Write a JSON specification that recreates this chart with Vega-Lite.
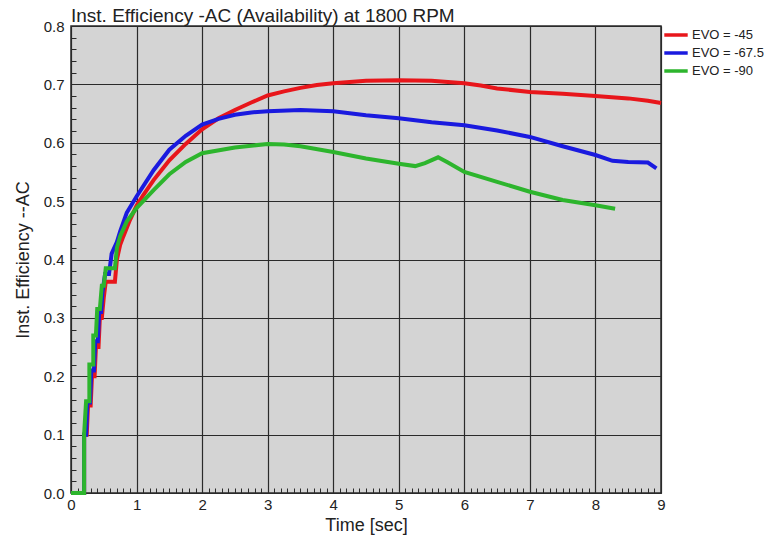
{
  "$schema": "https://vega.github.io/schema/vega-lite/v6.json",
  "autosize": "none",
  "width": 590,
  "height": 467,
  "padding": {"left": 71, "top": 26, "right": 106, "bottom": 47},
  "background": "white",
  "title": {
    "text": "Inst. Efficiency -AC (Availability) at 1800 RPM",
    "anchor": "start",
    "frame": "group",
    "font": "Liberation Sans",
    "fontSize": 19,
    "fontWeight": "normal",
    "color": "#222",
    "baseline": "alphabetic",
    "offset": 0,
    "dy": 22
  },
  "config": {
    "view": {"fill": "#d4d4d4", "stroke": "#2a2a2a", "strokeWidth": 1.5},
    "axis": {"labelFont": "Liberation Sans", "titleFont": "Liberation Sans", "labelColor": "#222", "titleColor": "#222", "titleFontWeight": "normal"},
    "legend": {"labelFont": "Liberation Sans"}
  },
  "data": {
    "values": [
      {"t": 0, "v": 0, "s": "EVO = -45"},
      {"t": 0.2, "v": 0, "s": "EVO = -45"},
      {"t": 0.2, "v": 0.1, "s": "EVO = -45"},
      {"t": 0.24, "v": 0.1, "s": "EVO = -45"},
      {"t": 0.26, "v": 0.15, "s": "EVO = -45"},
      {"t": 0.3, "v": 0.15, "s": "EVO = -45"},
      {"t": 0.32, "v": 0.2, "s": "EVO = -45"},
      {"t": 0.36, "v": 0.2, "s": "EVO = -45"},
      {"t": 0.38, "v": 0.25, "s": "EVO = -45"},
      {"t": 0.42, "v": 0.25, "s": "EVO = -45"},
      {"t": 0.44, "v": 0.3, "s": "EVO = -45"},
      {"t": 0.47, "v": 0.3, "s": "EVO = -45"},
      {"t": 0.5, "v": 0.335, "s": "EVO = -45"},
      {"t": 0.53, "v": 0.362, "s": "EVO = -45"},
      {"t": 0.67, "v": 0.362, "s": "EVO = -45"},
      {"t": 0.7, "v": 0.4, "s": "EVO = -45"},
      {"t": 0.75, "v": 0.425, "s": "EVO = -45"},
      {"t": 0.8, "v": 0.44, "s": "EVO = -45"},
      {"t": 0.9, "v": 0.468, "s": "EVO = -45"},
      {"t": 1.0, "v": 0.492, "s": "EVO = -45"},
      {"t": 1.1, "v": 0.51, "s": "EVO = -45"},
      {"t": 1.26, "v": 0.536, "s": "EVO = -45"},
      {"t": 1.5, "v": 0.57, "s": "EVO = -45"},
      {"t": 1.75, "v": 0.598, "s": "EVO = -45"},
      {"t": 2.0, "v": 0.623, "s": "EVO = -45"},
      {"t": 2.25, "v": 0.642, "s": "EVO = -45"},
      {"t": 2.5, "v": 0.656, "s": "EVO = -45"},
      {"t": 2.75, "v": 0.669, "s": "EVO = -45"},
      {"t": 3.0, "v": 0.681, "s": "EVO = -45"},
      {"t": 3.25, "v": 0.688, "s": "EVO = -45"},
      {"t": 3.5, "v": 0.694, "s": "EVO = -45"},
      {"t": 3.75, "v": 0.699, "s": "EVO = -45"},
      {"t": 4.0, "v": 0.702, "s": "EVO = -45"},
      {"t": 4.5, "v": 0.706, "s": "EVO = -45"},
      {"t": 5.0, "v": 0.707, "s": "EVO = -45"},
      {"t": 5.5, "v": 0.706, "s": "EVO = -45"},
      {"t": 6.0, "v": 0.702, "s": "EVO = -45"},
      {"t": 6.25, "v": 0.698, "s": "EVO = -45"},
      {"t": 6.5, "v": 0.693, "s": "EVO = -45"},
      {"t": 7.0, "v": 0.687, "s": "EVO = -45"},
      {"t": 7.5, "v": 0.684, "s": "EVO = -45"},
      {"t": 8.0, "v": 0.68, "s": "EVO = -45"},
      {"t": 8.5, "v": 0.676, "s": "EVO = -45"},
      {"t": 8.8, "v": 0.672, "s": "EVO = -45"},
      {"t": 9.0, "v": 0.668, "s": "EVO = -45"},

      {"t": 0, "v": 0, "s": "EVO = -67.5"},
      {"t": 0.2, "v": 0, "s": "EVO = -67.5"},
      {"t": 0.2, "v": 0.1, "s": "EVO = -67.5"},
      {"t": 0.23, "v": 0.1, "s": "EVO = -67.5"},
      {"t": 0.25, "v": 0.155, "s": "EVO = -67.5"},
      {"t": 0.29, "v": 0.155, "s": "EVO = -67.5"},
      {"t": 0.31, "v": 0.21, "s": "EVO = -67.5"},
      {"t": 0.35, "v": 0.21, "s": "EVO = -67.5"},
      {"t": 0.37, "v": 0.26, "s": "EVO = -67.5"},
      {"t": 0.41, "v": 0.26, "s": "EVO = -67.5"},
      {"t": 0.43, "v": 0.31, "s": "EVO = -67.5"},
      {"t": 0.46, "v": 0.31, "s": "EVO = -67.5"},
      {"t": 0.48, "v": 0.345, "s": "EVO = -67.5"},
      {"t": 0.52, "v": 0.375, "s": "EVO = -67.5"},
      {"t": 0.58, "v": 0.375, "s": "EVO = -67.5"},
      {"t": 0.62, "v": 0.41, "s": "EVO = -67.5"},
      {"t": 0.7, "v": 0.43, "s": "EVO = -67.5"},
      {"t": 0.75, "v": 0.448, "s": "EVO = -67.5"},
      {"t": 0.85, "v": 0.48, "s": "EVO = -67.5"},
      {"t": 1.0, "v": 0.508, "s": "EVO = -67.5"},
      {"t": 1.26, "v": 0.553, "s": "EVO = -67.5"},
      {"t": 1.5, "v": 0.588, "s": "EVO = -67.5"},
      {"t": 1.75, "v": 0.612, "s": "EVO = -67.5"},
      {"t": 2.0, "v": 0.631, "s": "EVO = -67.5"},
      {"t": 2.25, "v": 0.641, "s": "EVO = -67.5"},
      {"t": 2.5, "v": 0.648, "s": "EVO = -67.5"},
      {"t": 2.75, "v": 0.652, "s": "EVO = -67.5"},
      {"t": 3.0, "v": 0.654, "s": "EVO = -67.5"},
      {"t": 3.5, "v": 0.656, "s": "EVO = -67.5"},
      {"t": 4.0, "v": 0.654, "s": "EVO = -67.5"},
      {"t": 4.5, "v": 0.647, "s": "EVO = -67.5"},
      {"t": 5.0, "v": 0.642, "s": "EVO = -67.5"},
      {"t": 5.5, "v": 0.635, "s": "EVO = -67.5"},
      {"t": 6.0, "v": 0.63, "s": "EVO = -67.5"},
      {"t": 6.5, "v": 0.621, "s": "EVO = -67.5"},
      {"t": 7.0, "v": 0.61, "s": "EVO = -67.5"},
      {"t": 7.5, "v": 0.594, "s": "EVO = -67.5"},
      {"t": 8.0, "v": 0.579, "s": "EVO = -67.5"},
      {"t": 8.26, "v": 0.569, "s": "EVO = -67.5"},
      {"t": 8.5, "v": 0.567, "s": "EVO = -67.5"},
      {"t": 8.8, "v": 0.566, "s": "EVO = -67.5"},
      {"t": 8.93, "v": 0.556, "s": "EVO = -67.5"},

      {"t": 0, "v": 0, "s": "EVO = -90"},
      {"t": 0.2, "v": 0, "s": "EVO = -90"},
      {"t": 0.2, "v": 0.1, "s": "EVO = -90"},
      {"t": 0.23, "v": 0.157, "s": "EVO = -90"},
      {"t": 0.28, "v": 0.157, "s": "EVO = -90"},
      {"t": 0.28, "v": 0.22, "s": "EVO = -90"},
      {"t": 0.34, "v": 0.22, "s": "EVO = -90"},
      {"t": 0.34, "v": 0.27, "s": "EVO = -90"},
      {"t": 0.38, "v": 0.27, "s": "EVO = -90"},
      {"t": 0.4, "v": 0.315, "s": "EVO = -90"},
      {"t": 0.44, "v": 0.315, "s": "EVO = -90"},
      {"t": 0.47, "v": 0.355, "s": "EVO = -90"},
      {"t": 0.5, "v": 0.355, "s": "EVO = -90"},
      {"t": 0.53, "v": 0.385, "s": "EVO = -90"},
      {"t": 0.67, "v": 0.385, "s": "EVO = -90"},
      {"t": 0.7, "v": 0.42, "s": "EVO = -90"},
      {"t": 0.75, "v": 0.44, "s": "EVO = -90"},
      {"t": 0.85, "v": 0.465, "s": "EVO = -90"},
      {"t": 1.0, "v": 0.488, "s": "EVO = -90"},
      {"t": 1.26, "v": 0.519, "s": "EVO = -90"},
      {"t": 1.5, "v": 0.546, "s": "EVO = -90"},
      {"t": 1.75, "v": 0.567, "s": "EVO = -90"},
      {"t": 2.0, "v": 0.582, "s": "EVO = -90"},
      {"t": 2.5, "v": 0.592, "s": "EVO = -90"},
      {"t": 3.0, "v": 0.598, "s": "EVO = -90"},
      {"t": 3.25, "v": 0.597, "s": "EVO = -90"},
      {"t": 3.5, "v": 0.594, "s": "EVO = -90"},
      {"t": 4.0, "v": 0.584, "s": "EVO = -90"},
      {"t": 4.5, "v": 0.573, "s": "EVO = -90"},
      {"t": 5.0, "v": 0.564, "s": "EVO = -90"},
      {"t": 5.25, "v": 0.56, "s": "EVO = -90"},
      {"t": 5.4, "v": 0.565, "s": "EVO = -90"},
      {"t": 5.6, "v": 0.575, "s": "EVO = -90"},
      {"t": 5.75, "v": 0.566, "s": "EVO = -90"},
      {"t": 6.0, "v": 0.55, "s": "EVO = -90"},
      {"t": 6.5, "v": 0.533, "s": "EVO = -90"},
      {"t": 7.0, "v": 0.516, "s": "EVO = -90"},
      {"t": 7.5, "v": 0.502, "s": "EVO = -90"},
      {"t": 8.0, "v": 0.493, "s": "EVO = -90"},
      {"t": 8.3, "v": 0.487, "s": "EVO = -90"}
    ]
  },
  "mark": {"type": "line", "strokeWidth": 4, "interpolate": "linear"},
  "encoding": {
    "x": {
      "field": "t",
      "type": "quantitative",
      "scale": {"domain": [0, 9], "nice": false},
      "axis": {
        "title": "Time [sec]",
        "titleFontSize": 18,
        "titlePadding": 4,
        "labelFontSize": 15,
        "labelPadding": 4,
        "labelOverlap": false,
        "labelFlush": false,
        "labelBound": false,
        "domain": false,
        "offset": -5,
        "grid": true,
        "gridColor": "#2a2a2a",
        "gridWidth": 1.2,
        "gridOpacity": {"condition": {"test": "abs(datum.value - round(datum.value)) < 0.001", "value": 1}, "value": 0},
        "ticks": true,
        "tickSize": 5,
        "tickColor": "#2a2a2a",
        "tickWidth": 1,
        "values": [0,0.1,0.2,0.3,0.4,0.5,0.6,0.7,0.8,0.9,1,1.1,1.2,1.3,1.4,1.5,1.6,1.7,1.8,1.9,2,2.1,2.2,2.3,2.4,2.5,2.6,2.7,2.8,2.9,3,3.1,3.2,3.3,3.4,3.5,3.6,3.7,3.8,3.9,4,4.1,4.2,4.3,4.4,4.5,4.6,4.7,4.8,4.9,5,5.1,5.2,5.3,5.4,5.5,5.6,5.7,5.8,5.9,6,6.1,6.2,6.3,6.4,6.5,6.6,6.7,6.8,6.9,7,7.1,7.2,7.3,7.4,7.5,7.6,7.7,7.8,7.9,8,8.1,8.2,8.3,8.4,8.5,8.6,8.7,8.8,8.9,9],
        "labelExpr": "abs(datum.value - round(datum.value)) < 0.001 ? format(datum.value, 'd') : ''"
      }
    },
    "y": {
      "field": "v",
      "type": "quantitative",
      "scale": {"domain": [0, 0.8], "nice": false},
      "axis": {
        "title": "Inst. Efficiency --AC",
        "titleFontSize": 18,
        "titlePadding": 11,
        "labelFontSize": 15,
        "labelPadding": 7,
        "labelOverlap": false,
        "labelBound": false,
        "labelFlush": false,
        "domain": false,
        "offset": -5,
        "grid": true,
        "gridColor": "#2a2a2a",
        "gridWidth": 1.2,
        "gridOpacity": {"condition": {"test": "abs(datum.value * 10 - round(datum.value * 10)) < 0.001", "value": 1}, "value": 0},
        "ticks": true,
        "tickSize": 5,
        "tickColor": "#2a2a2a",
        "tickWidth": 1,
        "values": [0,0.02,0.04,0.06,0.08,0.1,0.12,0.14,0.16,0.18,0.2,0.22,0.24,0.26,0.28,0.3,0.32,0.34,0.36,0.38,0.4,0.42,0.44,0.46,0.48,0.5,0.52,0.54,0.56,0.58,0.6,0.62,0.64,0.66,0.68,0.7,0.72,0.74,0.76,0.78,0.8],
        "labelExpr": "abs(datum.value * 10 - round(datum.value * 10)) < 0.001 ? format(datum.value, '.1f') : ''"
      }
    },
    "color": {
      "field": "s",
      "type": "nominal",
      "scale": {"domain": ["EVO = -45", "EVO = -67.5", "EVO = -90"], "range": ["#e8161b", "#1a1adf", "#2db52d"]},
      "legend": {
        "title": null,
        "orient": "none",
        "legendX": 594,
        "legendY": -2,
        "symbolType": "M-1.3,0H1.3",
        "symbolSize": 324,
        "symbolStrokeWidth": 3.5,
        "labelFontSize": 13,
        "labelColor": "#222",
        "labelOffset": 5,
        "rowPadding": -1
      }
    }
  }
}
